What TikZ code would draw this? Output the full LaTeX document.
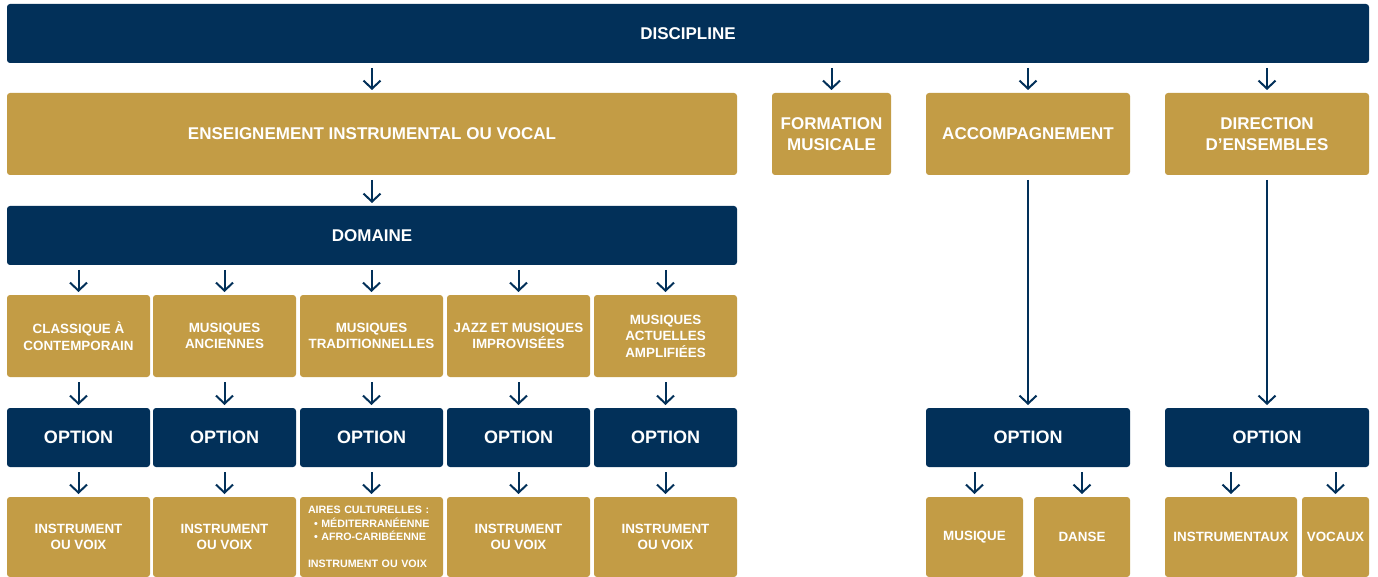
\documentclass[tikz,border=0pt]{standalone}
\usepackage{fontspec}
\setmainfont{Liberation Sans}
\usetikzlibrary{arrows.meta}
\definecolor{navy}{HTML}{023059}
\definecolor{gold}{HTML}{C39C45}
\newcommand{\fbig}{\fontsize{17}{21}\selectfont\bfseries}
\newcommand{\fopt}{\fontsize{18}{21}\selectfont\bfseries}
\newcommand{\fsmall}{\fontsize{13.4}{16.5}\selectfont\bfseries}
\newcommand{\ftiny}{\fontsize{10.7}{13.5}\selectfont\bfseries}
\begin{document}
\begin{tikzpicture}
[x=1pt, y=-1pt,
 box/.style={fill=gold, text=white, rounded corners=3pt, inner sep=0pt, outer sep=0pt,
   anchor=north west, align=center, font=\fsmall},
 head/.style={box, fill=navy, font=\fopt, minimum height=59pt},
 arr/.style={draw=navy, line width=2pt, -{Straight Barb[length=8pt,width=17pt]},
   shorten <=5pt, shorten >=3pt}]
\useasboundingbox (0,0) rectangle (1378,577);
% top levels
\node[head, font=\fbig, minimum width=1362pt] (disc) at (7,4) {DISCIPLINE};
\node[box, font=\fbig, minimum width=730pt, minimum height=82pt] (ens) at (7,93) {ENSEIGNEMENT INSTRUMENTAL OU VOCAL};
\node[box, font=\fbig, minimum width=119pt, minimum height=82pt] (form) at (772,93) {FORMATION\\MUSICALE};
\node[box, font=\fbig, minimum width=204pt, minimum height=82pt] (acc) at (926,93) {ACCOMPAGNEMENT};
\node[box, font=\fbig, minimum width=204pt, minimum height=82pt] (dir) at (1165,93) {DIRECTION\\D’ENSEMBLES};
\node[head, font=\fbig, minimum width=730pt] (dom) at (7,206) {DOMAINE};
% domaines
\foreach \i/\x/\t in {1/7/{CLASSIQUE À\\CONTEMPORAIN}, 2/153/{MUSIQUES\\ANCIENNES},
  3/300/{MUSIQUES\\TRADITIONNELLES}, 4/447/{JAZZ ET MUSIQUES\\IMPROVISÉES},
  5/594/{MUSIQUES\\ACTUELLES\\AMPLIFIÉES}} {
  \node[box, minimum width=143pt, minimum height=82pt] (d\i) at (\x,295) {\t};
  \node[head, minimum width=143pt] (o\i) at (\x,408) {OPTION};
}
\node[box, minimum width=143pt, minimum height=80pt] (b1) at (7,497) {INSTRUMENT\\OU VOIX};
\node[box, minimum width=143pt, minimum height=80pt] (b2) at (153,497) {INSTRUMENT\\OU VOIX};
\node[box, font=\ftiny, minimum width=143pt, minimum height=80pt, inner xsep=8pt,
  text width=127pt, align=left] (b3) at (300,497)
  {AIRES CULTURELLES :\\\hspace*{6pt}\textbullet\ MÉDITERRANÉENNE\\\hspace*{6pt}\textbullet\ AFRO-CARIBÉENNE\\[13pt]INSTRUMENT OU VOIX};
\node[box, minimum width=143pt, minimum height=80pt] (b4) at (447,497) {INSTRUMENT\\OU VOIX};
\node[box, minimum width=143pt, minimum height=80pt] (b5) at (594,497) {INSTRUMENT\\OU VOIX};
% right branches
\node[head, minimum width=204pt] (o6) at (926,408) {OPTION};
\node[head, minimum width=204pt] (o7) at (1165,408) {OPTION};
\node[box, minimum width=97pt, minimum height=80pt] (mus) at (926,497) {MUSIQUE};
\node[box, minimum width=96pt, minimum height=80pt] (dan) at (1034,497) {DANSE};
\node[box, minimum width=132pt, minimum height=80pt] (ins) at (1165,497) {INSTRUMENTAUX};
\node[box, minimum width=67pt, minimum height=80pt] (voc) at (1302,497) {VOCAUX};
% arrows
\draw[arr] (disc.south -| ens.north) -- (ens);
\draw[arr] (disc.south -| form.north) -- (form);
\draw[arr] (disc.south -| acc.north) -- (acc);
\draw[arr] (disc.south -| dir.north) -- (dir);
\draw[arr] (ens) -- (dom);
\foreach \i in {1,...,5} {
  \draw[arr] (dom.south -| d\i.north) -- (d\i);
  \draw[arr] (d\i) -- (o\i);
  \draw[arr] (o\i) -- (b\i);
}
\draw[arr] (acc) -- (o6);
\draw[arr] (dir) -- (o7);
\draw[arr] (o6.south -| mus.north) -- (mus);
\draw[arr] (o6.south -| dan.north) -- (dan);
\draw[arr] (o7.south -| ins.north) -- (ins);
\draw[arr] (o7.south -| voc.north) -- (voc);
\end{tikzpicture}
\end{document}
